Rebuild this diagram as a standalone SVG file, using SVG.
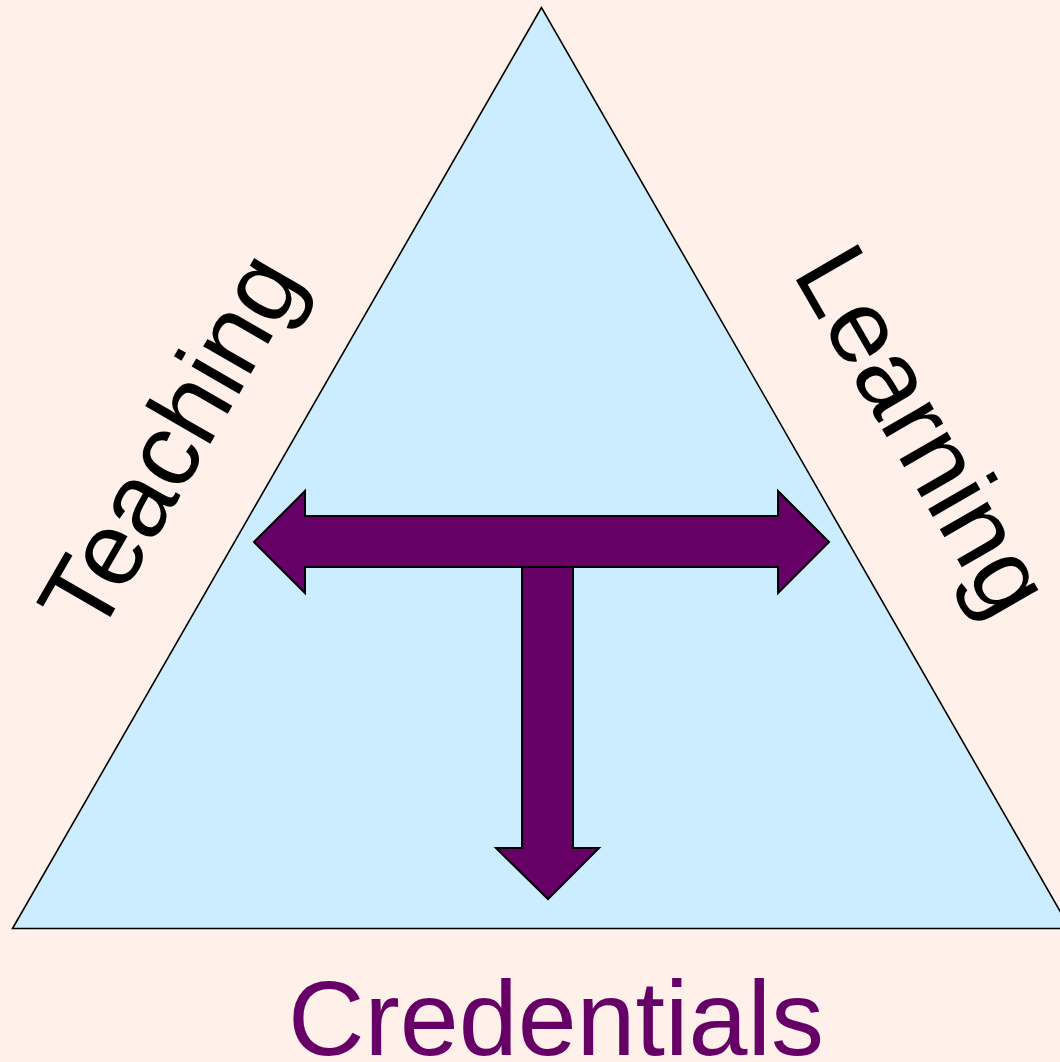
<svg xmlns="http://www.w3.org/2000/svg" width="1060" height="1062" viewBox="0 0 1060 1062">
<style>
.lbl{font-family:"Liberation Sans",Arial,sans-serif;font-size:104px;fill:#000}
.arrow{fill:#660066;stroke:#000;stroke-width:2;stroke-linejoin:miter}
</style>
<rect x="0" y="0" width="1060" height="1062" fill="#FFF0E9"/>
<g id="triangle">
<polygon points="541.5,7.5 12.5,928.5 1070,928.5" fill="#CCECFF" stroke="#000" stroke-width="1.6"/>
</g>
<g id="connectors">
<polygon class="arrow" points="254,542 305,491 305,516 778,516 778,491 829,542 778,593 778,567 305,567 305,593"/>
<polygon class="arrow" points="522,567 573,567 573,848 599,848 548,899 496,848 522,848"/>
</g>
<g id="teaching">
<text class="lbl" transform="translate(201,460) rotate(-60)" text-anchor="middle">Teaching</text>
</g>
<g id="learning">
<text class="lbl" transform="translate(893,448) rotate(60)" text-anchor="middle">Learning</text>
</g>
<g id="credentials">
<text class="lbl" x="556" y="1055" text-anchor="middle" style="fill:#660066;font-size:106px">Credentials</text>
</g>
</svg>
